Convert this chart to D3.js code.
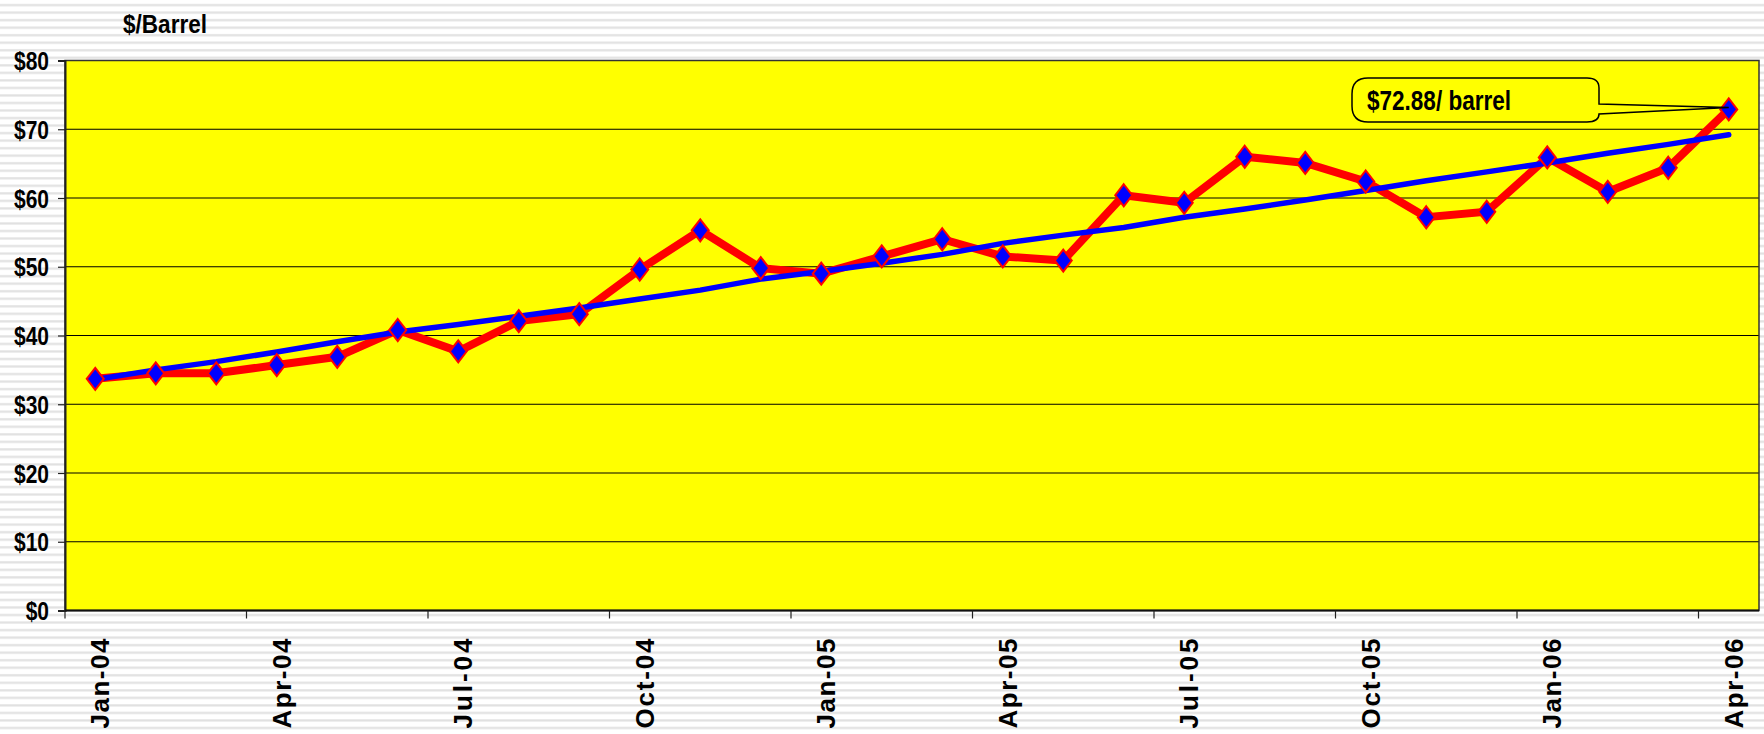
<!DOCTYPE html>
<html>
<head>
<meta charset="utf-8">
<script src="https://cdn.jsdelivr.net/npm/d3@7"></script>
<style>
  html, body { margin: 0; padding: 0; background: #fff; }
  svg { display: block; }
  text { font-family: "Liberation Sans", Arial, sans-serif; font-weight: bold; fill: #000; }
</style>
</head>
<body>
<svg id="chart" width="1764" height="734"></svg>
<script>
// ---- data ----
const months = ["Jan-04","Feb-04","Mar-04","Apr-04","May-04","Jun-04","Jul-04","Aug-04","Sep-04","Oct-04","Nov-04","Dec-04",
                "Jan-05","Feb-05","Mar-05","Apr-05","May-05","Jun-05","Jul-05","Aug-05","Sep-05","Oct-05","Nov-05","Dec-05",
                "Jan-06","Feb-06","Mar-06","Apr-06"];
const price = [33.7, 34.5, 34.5, 35.7, 36.9, 40.8, 37.7, 42.1, 43.1, 49.6, 55.3, 49.8,
               49.0, 51.5, 54.0, 51.5, 50.9, 60.4, 59.3, 66.0, 65.1, 62.4, 57.2, 58.0,
               65.9, 60.9, 64.4, 72.88];
const trend = [33.6, 35.0, 36.2, 37.6, 39.1, 40.5, 41.6, 42.8, 44.0, 45.3, 46.6, 48.2,
               49.3, 50.5, 51.8, 53.4, 54.6, 55.7, 57.2, 58.4, 59.7, 61.1, 62.5, 63.8,
               65.1, 66.5, 67.8, 69.2];
const yTicks = [0, 10, 20, 30, 40, 50, 60, 70, 80];
const xLabelMonths = ["Jan-04","Apr-04","Jul-04","Oct-04","Jan-05","Apr-05","Jul-05","Oct-05","Jan-06","Apr-06"];
const unitLabel = "$/Barrel";
const calloutText = "$72.88/ barrel";

// ---- layout ----
const W = 1764, H = 734;
const L = 65, R = 1759, T = 60.5, B = 610.5;

const svg = d3.select("#chart");

// striped background
const defs = svg.append("defs");
const pat = defs.append("pattern").attr("id", "stripes")
  .attr("patternUnits", "userSpaceOnUse").attr("width", 10).attr("height", 7.53);
pat.append("rect").attr("width", 10).attr("height", 7.53).attr("fill", "#ffffff");
pat.append("rect").attr("y", 4).attr("width", 10).attr("height", 2.2).attr("fill", "#e1e1e1");
svg.append("rect").attr("width", W).attr("height", H).attr("fill", "url(#stripes)");

const x = d3.scaleBand().domain(months).range([L, R]).padding(0);
const y = d3.scaleLinear().domain([0, 80]).range([B, T]);
const cx = d => x(d) + x.bandwidth() / 2;

// plot area
svg.append("rect").attr("x", L).attr("y", T).attr("width", R - L).attr("height", B - T)
  .attr("fill", "#ffff00");

// gridlines
svg.append("g").selectAll("line").data(yTicks.filter(v => v > 0 && v < 80)).join("line")
  .attr("x1", L).attr("x2", R).attr("y1", d => y(d)).attr("y2", d => y(d))
  .attr("stroke", "#000").attr("stroke-width", 1);

// plot border
svg.append("rect").attr("x", L).attr("y", T).attr("width", R - L).attr("height", B - T)
  .attr("fill", "none").attr("stroke", "#333").attr("stroke-width", 1.5);

// y axis
const yAxis = svg.append("g").attr("transform", `translate(${L},0)`)
  .call(d3.axisLeft(y).tickValues(yTicks).tickFormat(d => "$" + d).tickSize(7).tickPadding(9));
yAxis.select(".domain").attr("stroke", "#222").attr("stroke-width", 2);
yAxis.selectAll(".tick line").attr("stroke", "#222").attr("stroke-width", 1.2);
yAxis.selectAll(".tick text")
  .attr("font-size", 25).attr("font-family", "Liberation Sans, Arial, sans-serif")
  .attr("font-weight", "bold").attr("fill", "#000").attr("dy", "0.36em")
  .each(function () {
    const len = this.getComputedTextLength();
    d3.select(this).attr("textLength", len * 0.84).attr("lengthAdjust", "spacingAndGlyphs");
  });

// x axis line
svg.append("line").attr("x1", L).attr("x2", R).attr("y1", B).attr("y2", B)
  .attr("stroke", "#111").attr("stroke-width", 2);

// x ticks at band starts for labelled months
svg.append("g").selectAll("line").data(xLabelMonths).join("line")
  .attr("x1", d => x(d)).attr("x2", d => x(d))
  .attr("y1", B).attr("y2", B + 8)
  .attr("stroke", "#222").attr("stroke-width", 1.2);

// x labels, rotated
svg.append("g").selectAll("text").data(xLabelMonths).join("text")
  .attr("transform", d => `translate(${cx(d) + 14},${B + 28}) rotate(-90)`)
  .attr("text-anchor", "end")
  .attr("font-size", 26)
  .attr("textLength", 90).attr("lengthAdjust", "spacing")
  .text(d => d);

// unit label
svg.append("text").attr("x", 123).attr("y", 33).attr("font-size", 25)
  .attr("textLength", 84).attr("lengthAdjust", "spacingAndGlyphs")
  .text(unitLabel);

// price line (red)
const priceData = months.map((m, i) => ({ m, v: price[i] }));
const trendData = months.map((m, i) => ({ m, v: trend[i] }));
const line = d3.line().x(d => cx(d.m)).y(d => y(d.v));

svg.append("path").datum(priceData).attr("d", line)
  .attr("fill", "none").attr("stroke", "#ff0000").attr("stroke-width", 8)
  .attr("stroke-linejoin", "miter").attr("stroke-miterlimit", 4);

// trend line (blue)
svg.append("path").datum(trendData).attr("d", line)
  .attr("fill", "none").attr("stroke", "#0000ff").attr("stroke-width", 5.5)
  .attr("stroke-linejoin", "round").attr("stroke-linecap", "round");

// markers
svg.append("g").selectAll("path").data(priceData).join("path")
  .attr("transform", d => `translate(${cx(d.m)},${y(d.v)})`)
  .attr("d", "M0,-11L8.5,0L0,11L-8.5,0Z")
  .attr("fill", "#0000ff").attr("stroke", "#ff0000").attr("stroke-width", 2);

// callout
const last = priceData[priceData.length - 1];
const tx = cx(last.m), ty = y(last.v) - 2;
const bx0 = 1352, bx1 = 1599, by0 = 78, by1 = 122;
const p = d3.path();
p.moveTo(bx0 + 16, by0);
p.lineTo(bx1 - 12, by0);
p.quadraticCurveTo(bx1, by0, bx1, by0 + 10);
p.lineTo(bx1, 104);
p.lineTo(tx, ty);
p.lineTo(bx1, 114);
p.quadraticCurveTo(bx1, by1, bx1 - 12, by1);
p.lineTo(bx0 + 16, by1);
p.quadraticCurveTo(bx0, by1, bx0, by1 - 16);
p.lineTo(bx0, by0 + 16);
p.quadraticCurveTo(bx0, by0, bx0 + 16, by0);
p.closePath();
svg.append("path").attr("d", p.toString())
  .attr("fill", "#ffff00").attr("stroke", "#000").attr("stroke-width", 1.5);
svg.append("text").attr("x", 1367).attr("y", 110).attr("font-size", 28)
  .attr("textLength", 144).attr("lengthAdjust", "spacingAndGlyphs")
  .text(calloutText);
</script>
</body>
</html>
